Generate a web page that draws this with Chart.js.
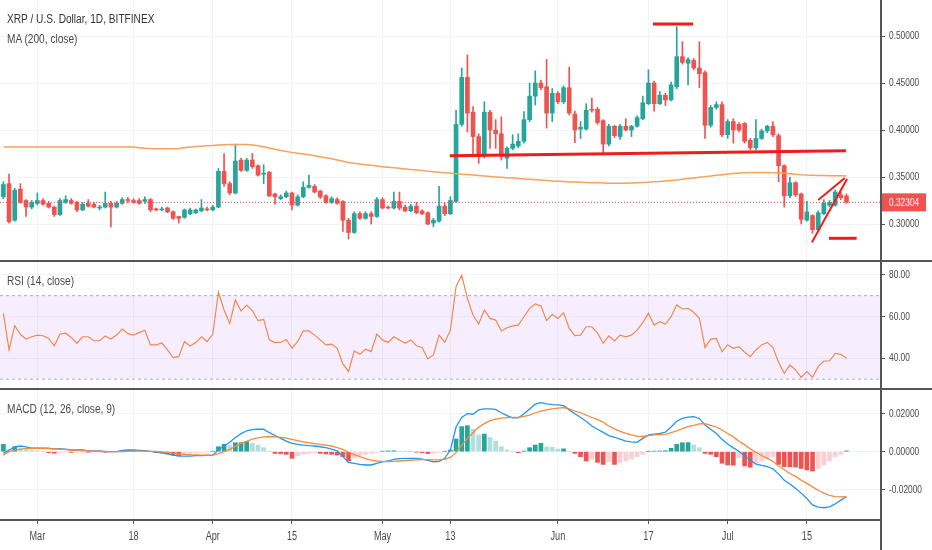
<!DOCTYPE html>
<html>
<head>
<meta charset="utf-8">
<script src="https://cdn.jsdelivr.net/npm/chart.js@4.4.1/dist/chart.umd.min.js"></script>
<style>
  html, body { margin: 0; padding: 0; background: #fff; }
  #wrap { position: relative; width: 932px; height: 550px; overflow: hidden; }
  .pane { position: absolute; left: 0; width: 932px; }
  .sep { position: absolute; left: 0; width: 932px; height: 2px; background: #555; }
  .vline { position: absolute; top: 0; left: 880px; width: 2px; height: 550px; background: #555; }
  .legend { position: absolute; left: 7px; font: 13px "Liberation Sans", Arial, sans-serif; color: #4a4a4a;
            line-height: 16px; white-space: nowrap; transform: scaleX(0.78); transform-origin: 0 50%; }
</style>
</head>
<body>
<div id="wrap">
  <div class="pane" style="top:0;height:261px"><canvas id="priceChart"></canvas></div>
  <div class="pane" style="top:262px;height:127px"><canvas id="rsiChart"></canvas></div>
  <div class="pane" style="top:390px;height:160px"><canvas id="macdChart"></canvas></div>
  <div class="sep" style="top:260px"></div>
  <div class="sep" style="top:388px"></div>
  <div class="vline"></div>
  <div class="legend" style="top:11px;color:#333">XRP / U.S. Dollar, 1D, BITFINEX</div>
  <div class="legend" style="top:31px">MA (200, close)</div>
  <div class="legend" style="top:273px">RSI (14, close)</div>
  <div class="legend" style="top:401px">MACD (12, 26, close, 9)</div>
</div>
<script>
// Velas diarias XRP/USD, 23 feb - 22 jul 2019
const opens = [
  .329, .343, .304, .337, .325, .318, .322, .325, .322, .318,
  .310, .323, .325, .323, .315, .322, .321, .317, .318, .322,
  .318, .322, .326, .325, .325, .324, .326, .316, .315, .317,
  .313, .308, .307, .311, .312, .314, .316, .315, .318, .356,
  .343, .333, .368, .357, .368, .362, .353, .355, .332, .327,
  .329, .333, .320, .329, .339, .340, .335, .330, .323, .326,
  .324, .304, .291, .311, .306, .311, .308, .326, .318, .317,
  .324, .318, .314, .319, .314, .312, .301, .303, .319, .311,
  .324, .406, .456, .419, .393, .372, .419, .400, .396, .370,
  .3805, .383, .388, .411, .436, .450, .446, .418, .439, .430,
  .445, .417, .401, .401, .422, .422, .410, .385, .404, .393,
  .404, .400, .404, .412, .428, .450, .428, .437, .432, .446,
  .478, .471, .474, .466, .461, .405, .424, .427, .395, .409,
  .406, .407, .389, .381, .391, .399, .404, .394, .362, .330,
  .344, .332, .304, .309, .294, .311, .320, .320, .331, .330
];
const highs = [
  .345, .353, .338, .343, .326, .325, .333, .327, .324, .319,
  .327, .330, .327, .324, .323, .326, .323, .320, .334, .324,
  .324, .328, .328, .327, .327, .329, .327, .317, .318, .318,
  .314, .308, .316, .317, .316, .326, .318, .320, .359, .375,
  .345, .385, .370, .370, .375, .363, .363, .356, .333, .331,
  .335, .334, .331, .345, .352, .342, .336, .331, .329, .328,
  .325, .306, .313, .313, .313, .313, .328, .328, .319, .334,
  .334, .320, .321, .323, .315, .313, .306, .340, .322, .329,
  .421, .466, .480, .425, .396, .430, .421, .411, .414, .382,
  .395, .396, .4195, .450, .463, .453, .475, .444, .441, .447,
  .467, .420, .409, .428, .434, .424, .411, .406, .405, .406,
  .412, .405, .415, .436, .464, .452, .441, .439, .451, .510,
  .494, .477, .476, .494, .463, .426, .430, .430, .411, .412,
  .408, .408, .391, .411, .401, .405, .409, .396, .363, .350,
  .345, .333, .324, .310, .314, .326, .325, .336, .334, .332
];
const lows = [
  .327, .301, .303, .322, .308, .316, .320, .320, .317, .308,
  .309, .322, .321, .313, .314, .318, .317, .315, .317, .297,
  .317, .321, .323, .322, .321, .322, .313, .314, .314, .312,
  .305, .301, .306, .310, .311, .313, .314, .314, .317, .340,
  .331, .332, .356, .356, .359, .351, .343, .329, .321, .326,
  .328, .315, .319, .328, .338, .333, .327, .322, .322, .321,
  .292, .284, .290, .305, .305, .300, .307, .316, .316, .316,
  .315, .313, .313, .311, .310, .299, .297, .302, .309, .310,
  .323, .404, .398, .372, .3645, .370, .3805, .3805, .368, .359,
  .379, .381, .386, .409, .4266, .443, .402, .409, .428, .428,
  .416, .3865, .391, .400, .419, .406, .374, .383, .392, .390,
  .399, .393, .403, .411, .427, .420, .427, .426, .431, .444,
  .470, .448, .464, .445, .391, .403, .422, .393, .391, .386,
  .398, .386, .379, .379, .390, .397, .393, .345, .318, .328,
  .329, .300, .303, .290, .293, .310, .318, .319, .326, .322
];
const closes = [
  .342, .3025, .336, .323, .318, .323, .325, .321, .318, .310,
  .325, .326, .322, .315, .321, .319, .318, .318, .322, .318,
  .322, .326, .325, .323, .322, .326, .315, .315, .316, .313,
  .306, .306, .315, .315, .315, .317, .315, .318, .356, .343,
  .333, .367, .357, .368, .361, .352, .354, .330, .329, .329,
  .333, .320, .329, .339, .341, .334, .329, .323, .327, .322,
  .304, .291, .311, .306, .311, .308, .326, .317, .317, .324,
  .317, .314, .319, .312, .311, .300, .304, .319, .311, .325,
  .406, .456, .418, .393, .372, .419, .400, .396, .372, .3805,
  .385, .388, .411, .436, .450, .445, .418, .439, .430, .445,
  .418, .400, .403, .421, .421, .408, .385, .404, .394, .404,
  .400, .404, .413, .429, .450, .428, .437, .432, .448, .478,
  .472, .475, .466, .460, .405, .424, .427, .395, .409, .400,
  .400, .388, .381, .391, .399, .404, .395, .362, .330, .344,
  .331, .305, .313, .294, .312, .322, .323, .334, .328, .32304
];
const ma200 = [
  .382, .382, .382, .382, .382, .382, .382, .382, .382, .382,
  .382, .382, .382, .382, .382, .382, .382, .382, .382, .382,
  .382, .382, .382, .3818, .3812, .3806, .3802, .3800, .3800, .3800,
  .3800, .3802, .3810, .3818, .3824, .3828, .3832, .3836, .3840, .3843,
  .3845, .3846, .3846, .3845, .3840, .3833, .3822, .3808, .3795, .3783,
  .3772, .3762, .3753, .3744, .3736, .3727, .3716, .3705, .3693, .3681,
  .3668, .3655, .3646, .3638, .3631, .3624, .3617, .3610, .3604, .3598,
  .3592, .3586, .3580, .3574, .3568, .3562, .3556, .3550, .3544, .3539,
  .3534, .3530, .3526, .3521, .3516, .3511, .3506, .3501, .3497, .3493,
  .3489, .3485, .3480, .3476, .3472, .3467, .3463, .3458, .3454, .3451,
  .3448, .3446, .3444, .3442, .3440, .3438, .3436, .3434, .3433, .3433,
  .3434, .3436, .3438, .3441, .3445, .3449, .3453, .3458, .3463, .3469,
  .3476, .3483, .3490, .3497, .3504, .3511, .3518, .3525, .3532, .3537,
  .3542, .3546, .3547, .3547, .3547, .3547, .3546, .3545, .3540, .3535,
  .3530, .3524, .3520, .3518, .3516, .3515, .3514, .3513, .3512, .3511
];
const rsi14 = [
  61.5, 44, 55.6, 51.5, 49.2, 50.3, 51.1, 50.8, 49.5, 46,
  51.5, 52, 50, 47.2, 50.3, 50.3, 48.4, 48.4, 50.7, 49.2,
  51.1, 54, 51.8, 51.1, 52.3, 53.4, 46.4, 46.4, 47.3, 44,
  40.3, 40.8, 48, 45.9, 47.5, 50.3, 48, 51.5, 71.6, 63.1,
  56.7, 67.9, 62.6, 65.5, 62.8, 58, 58.6, 48.8, 47.5, 47.6,
  49, 44.8, 48, 53.1, 53.1, 51.1, 48.8, 46.4, 46.8, 44.8,
  37.3, 33.6, 43.5, 41.9, 44.3, 43.2, 51.6, 48.8, 47.6, 50.3,
  48.8, 47.2, 48.8, 46, 45.2, 39.7, 41.6, 51.1, 47.6, 53.5,
  74.3, 79.7, 68.7, 60.7, 56.4, 63.1, 59.1, 58.3, 53.1, 54.6,
  55.5, 55.9, 59.9, 63.9, 66, 65, 58, 61, 59.1, 61.8,
  54.3, 50.8, 51.1, 55.1, 55.1, 52, 47.2, 50.7, 48.3, 51.1,
  50.3, 51.1, 53.5, 57.1, 61.5, 55.9, 57.5, 56.4, 59.9, 65.5,
  63.6, 63.9, 62, 59.1, 45.1, 49.2, 49.5, 43.2, 46.4, 44.8,
  45.6, 42.9, 40.8, 44, 46.4, 47.6, 45.1, 38.1, 32.8, 36.8,
  34.4, 30.9, 33.6, 30.9, 36, 38.7, 38.7, 42.4, 41.9, 40
];
const macdLine = [
  -.0009, .0009, .0026, .0030, .0025, .0019, .0018, .0018, .0018, .0014,
  .0016, .0014, .0009, .0009, .0009, .0004, .0004, .0004, .0000, .0000,
  .0000, .0007, .0009, .0009, .0007, .0005, .0002, -.0002, -.0005, -.0011,
  -.0018, -.0023, -.0023, -.0023, -.0021, -.0021, -.0019, -.0018, .0010, .0030,
  .0050, .0075, .0095, .0110, .0116, .0118, .0118, .0100, .0085, .0070,
  .0056, .0044, .0039, .0035, .0032, .0030, .0026, .0021, .0014, .0004,
  -.0026, -.0056, -.0061, -.0067, -.0070, -.0070, -.0061, -.0054, -.0049, -.0040,
  -.0037, -.0035, -.0035, -.0035, -.0039, -.0046, -.0053, -.0051, -.0035, .0010,
  .0130, .0180, .0200, .0197, .0220, .0225, .0225, .0223, .0205, .0190,
  .0178, .0178, .0198, .0225, .0250, .0258, .0252, .0248, .0246, .0242,
  .0220, .0200, .0180, .0160, .0135, .0118, .0102, .0085, .0076, .0066,
  .0056, .0052, .0049, .0070, .0088, .0092, .0096, .0103, .0130, .0160,
  .0175, .0182, .0184, .0175, .0140, .0118, .0096, .0065, .0040, .0020,
  .0002, -.0024, -.0045, -.0065, -.0072, -.0078, -.0090, -.0118, -.0150, -.0170,
  -.0193, -.0218, -.0246, -.0280, -.0292, -.0295, -.0290, -.0275, -.0255, -.0237
];
const signalLine = [
  -.0018, .0000, .0008, .0013, .0016, .0018, .0018, .0017, .0016, .0015,
  .0013, .0011, .0009, .0008, .0006, .0004, .0003, .0002, .0001, .0000,
  .0000, .0001, .0002, .0003, .0003, .0003, .0002, .0001, -.0001, -.0004,
  -.0008, -.0011, -.0014, -.0016, -.0017, -.0018, -.0018, -.0018, -.0010, .0000,
  .0012, .0028, .0042, .0055, .0066, .0073, .0078, .0080, .0078, .0075,
  .0071, .0065, .0058, .0052, .0047, .0043, .0039, .0035, .0030, .0022,
  .0012, -.0003, -.0015, -.0026, -.0036, -.0044, -.0049, -.0051, -.0052, -.0051,
  -.0049, -.0047, -.0045, -.0043, -.0042, -.0042, -.0043, -.0043, -.0040, -.0030,
  -.0005, .0035, .0070, .0100, .0128, .0148, .0163, .0172, .0177, .0179,
  .0180, .0181, .0186, .0193, .0205, .0213, .0220, .0225, .0229, .0232,
  .0226, .0213, .0205, .0193, .0180, .0170, .0155, .0135, .0120, .0107,
  .0097, .0088, .0081, .0080, .0085, .0089, .0090, .0091, .0100, .0110,
  .0122, .0132, .0138, .0146, .0148, .0138, .0130, .0114, .0096, .0078,
  .0055, .0037, .0015, -.0003, -.0020, -.0035, -.0050, -.0075, -.0095, -.0115,
  -.0130, -.0150, -.0167, -.0185, -.0203, -.0218, -.0230, -.0236, -.0238, -.0237
];
const macdHist = [
  .0039, .0012, .0026, .0016, .0010, .0008, .0005, .0002, -.0005, -.0008,
  -.0004, -.0002, -.0004, -.0003, -.0002, -.0003, -.0003, -.0002, -.0003, -.0002,
  -.0001, .0004, .0006, .0006, .0005, .0004, .0002, -.0005, -.0008, -.0012,
  -.0018, -.0020, -.0015, -.0010, -.0007, -.0003, -.0002, .0003, .0026, .0039,
  .0032, .0047, .0048, .0053, .0044, .0035, .0021, .0003, -.0009, -.0010,
  -.0014, -.0035, -.0021, -.0014, -.0009, -.0005, -.0009, -.0012, -.0014, -.0018,
  -.0026, -.0049, -.0032, -.0021, -.0014, -.0009, -.0004, .0003, .0004, .0005,
  .0004, .0003, .0001, -.0002, -.0005, -.0010, -.0008, -.0003, .0002, .0009,
  .0067, .0132, .0137, .0118, .0088, .0093, .0075, .0056, .0026, .0009,
  .0002, -.0005, .0004, .0021, .0035, .0044, .0026, .0023, .0014, .0015,
  .0002, -.0009, -.0026, -.0049, -.0039, -.0056, -.0067, -.0053, -.0067, -.0056,
  -.0049, -.0039, -.0026, -.0014, .0002, .0003, .0004, .0005, .0018, .0039,
  .0047, .0048, .0035, .0021, -.0009, -.0014, -.0026, -.0061, -.0070, -.0071,
  -.0032, -.0075, -.0082, -.0061, -.0049, -.0039, -.0026, -.0067, -.0079, -.0080,
  -.0081, -.0088, -.0096, -.0102, -.0088, -.0070, -.0049, -.0026, -.0014, .0004
];

// Etiquetas del eje de tiempo (índice de vela -> texto)
const tickIdx = [6, 23, 37, 51, 67, 79, 98, 114, 128, 142];
const tickText = ['Mar', '18', 'Apr', '15', 'May', '13', 'Jun', '17', 'Jul', '15'];
const priceTicks = [0.30, 0.35, 0.40, 0.45, 0.50];
const rsiTicks = [40, 60, 80];
const macdTicks = [-0.02, 0, 0.02];
const rsiLevels = [30, 70];

// Trazos dibujados a mano sobre el precio: [índice, precio]
const topLine = [[114.8, 0.5128], [121.9, 0.5128]];
const supportLine = [[78.9, 0.3727], [148.9, 0.3780]];
const bottomLine = [[145.9, 0.2848], [150.8, 0.2848]];
const wedgeLow = [[142.9, 0.2805], [149.1, 0.3479]];
const wedgeHigh = [[144.0, 0.3255], [148.7, 0.3490]];

const X_MIN = -0.6, X_MAX = 155.1;
const AXIS_W = 51;
const GREEN = '#26A69A', RED = '#EF5350';
const gridColor = '#F0F3FA';
const textColor = '#4A4A4A';
const lineColor = '#555';
const FONT_FAMILY = "'Liberation Sans', Arial, sans-serif";
const SQUEEZE = 0.76;

const idx = closes.map((_, i) => i);
const pts = arr => arr.map(([x, y]) => ({ x, y }));
const series = arr => idx.map(i => ({ x: i, y: arr[i] }));
const flat = v => [{ x: X_MIN, y: v }, { x: X_MAX, y: v }];

function xScale(showTicks) {
    return {
        type: 'linear', min: X_MIN, max: X_MAX, offset: false,
        afterBuildTicks: s => { s.ticks = tickIdx.map(v => ({ value: v })); },
        ticks: { display: false },
        grid: { color: gridColor, offset: false, drawTicks: showTicks, tickLength: 4, tickColor: lineColor },
        border: { display: showTicks, color: lineColor, width: 2 },
        afterFit: s => { s.height = showTicks ? 30 : 0; s.paddingLeft = 0; s.paddingRight = 0; },
    };
}

function yScale(min, max, ticks) {
    return {
        position: 'right', min, max, beginAtZero: false,
        afterBuildTicks: s => { s.ticks = ticks.map(v => ({ value: v })); },
        ticks: { display: false },
        grid: { color: gridColor, tickLength: 4, tickColor: lineColor },
        border: { display: false },
        afterFit: s => { s.width = AXIS_W; s.paddingTop = 0; s.paddingBottom = 0; },
    };
}

const baseOptions = {
    responsive: true,
    maintainAspectRatio: false,
    animation: false,
    events: [],
    layout: { padding: 0 },
    plugins: { legend: { display: false }, tooltip: { enabled: false } },
};

function lineSet(data, color, width, order, extra) {
    return Object.assign({
        type: 'line', data, borderColor: color, borderWidth: width,
        pointRadius: 0, tension: 0, fill: false, order,
    }, extra || {});
}

// Texto estrecho, como en la captura original
function drawSqueezed(ctx, text, x, y) {
    ctx.save();
    ctx.translate(x, y);
    ctx.scale(SQUEEZE, 1);
    ctx.fillText(text, 0, 0);
    ctx.restore();
}

// Rótulos de los ejes, colocados con las escalas de Chart.js
function axisLabels(digits, showX) {
    return {
        id: 'axisLabels',
        afterDraw(chart) {
            const { ctx, chartArea, scales } = chart;
            ctx.save();
            ctx.fillStyle = textColor;
            ctx.textBaseline = 'middle';
            ctx.font = '11px ' + FONT_FAMILY;
            ctx.textAlign = 'left';
            scales.y.ticks.forEach(t => {
                drawSqueezed(ctx, t.value.toFixed(digits), chartArea.right + 8, scales.y.getPixelForValue(t.value));
            });
            if (showX) {
                ctx.font = '12px ' + FONT_FAMILY;
                ctx.textAlign = 'center';
                scales.x.ticks.forEach((t, i) => {
                    drawSqueezed(ctx, tickText[i], scales.x.getPixelForValue(t.value), chartArea.bottom + 17);
                });
            }
            ctx.restore();
        }
    };
}

// Etiqueta roja con el último precio sobre el eje
const priceTag = {
    id: 'priceTag',
    afterDraw(chart) {
        const { ctx, chartArea, scales } = chart;
        const last = closes[closes.length - 1];
        const y = scales.y.getPixelForValue(last);
        ctx.save();
        ctx.fillStyle = RED;
        ctx.fillRect(chartArea.right, y - 9, 45, 18);
        ctx.fillStyle = '#fff';
        ctx.font = '11px ' + FONT_FAMILY;
        ctx.textBaseline = 'middle';
        drawSqueezed(ctx, last.toFixed(5), chartArea.right + 8, y + 0.5);
        ctx.restore();
    }
};

// Gráfico de precio con velas, MA 200 y trazos
const candleColors = idx.map(i => closes[i] >= opens[i] ? GREEN : RED);
const lastClose = closes[closes.length - 1];
new Chart(document.getElementById('priceChart'), {
    type: 'bar',
    data: {
        datasets: [
            lineSet(pts(topLine), '#F21B1B', 3, 0),
            lineSet(pts(supportLine), '#F21B1B', 3, 0),
            lineSet(pts(bottomLine), '#F21B1B', 3, 0),
            lineSet(pts(wedgeLow), '#F21B1B', 2, 0),
            lineSet(pts(wedgeHigh), '#F21B1B', 2, 0),
            lineSet(flat(lastClose), RED, 1, 1, { borderDash: [1, 2] }),
            lineSet(series(ma200), '#F7A15E', 1.5, 2),
            {
                type: 'bar', data: idx.map(i => ({ x: i, y: [opens[i], closes[i]] })),
                backgroundColor: candleColors, barThickness: 4, minBarLength: 1, grouped: false, order: 3,
            },
            {
                type: 'bar', data: idx.map(i => ({ x: i, y: [lows[i], highs[i]] })),
                backgroundColor: candleColors, barThickness: 1, grouped: false, order: 4,
            },
        ],
    },
    options: Object.assign({}, baseOptions, {
        scales: { x: xScale(false), y: yScale(0.26064, 0.5383, priceTicks) },
    }),
    plugins: [axisLabels(5, false), priceTag],
});

// Gráfico RSI
new Chart(document.getElementById('rsiChart'), {
    type: 'line',
    data: {
        datasets: [
            lineSet(flat(rsiLevels[0]), '#B4B4BE', 1, 2, { borderDash: [3, 3] }),
            lineSet(flat(rsiLevels[1]), '#B4B4BE', 1, 1, {
                borderDash: [3, 3], fill: '-1', backgroundColor: 'rgba(153, 51, 255, 0.09)',
            }),
            lineSet(series(rsi14), '#F08A4B', 1.2, 0),
        ],
    },
    options: Object.assign({}, baseOptions, {
        scales: { x: xScale(false), y: yScale(25.31, 86.08, rsiTicks) },
    }),
    plugins: [axisLabels(2, false)],
});

// Gráfico MACD con histograma
const histColors = macdHist.map((h, i) => {
    const prev = i ? macdHist[i - 1] : 0;
    if (h >= 0) return h >= prev ? GREEN : '#B2DFDB';
    return h < prev ? RED : '#FFCDD2';
});
new Chart(document.getElementById('macdChart'), {
    type: 'bar',
    data: {
        datasets: [
            lineSet(series(signalLine), '#F7893B', 1.3, 0),
            lineSet(series(macdLine), '#2196F3', 1.3, 1),
            {
                type: 'bar', data: series(macdHist), backgroundColor: histColors,
                barThickness: 4, grouped: false, order: 3,
            },
        ],
    },
    options: Object.assign({}, baseOptions, {
        scales: { x: xScale(true), y: yScale(-0.03595, 0.03247, macdTicks) },
    }),
    plugins: [axisLabels(5, true)],
});
</script>
</body>
</html>
